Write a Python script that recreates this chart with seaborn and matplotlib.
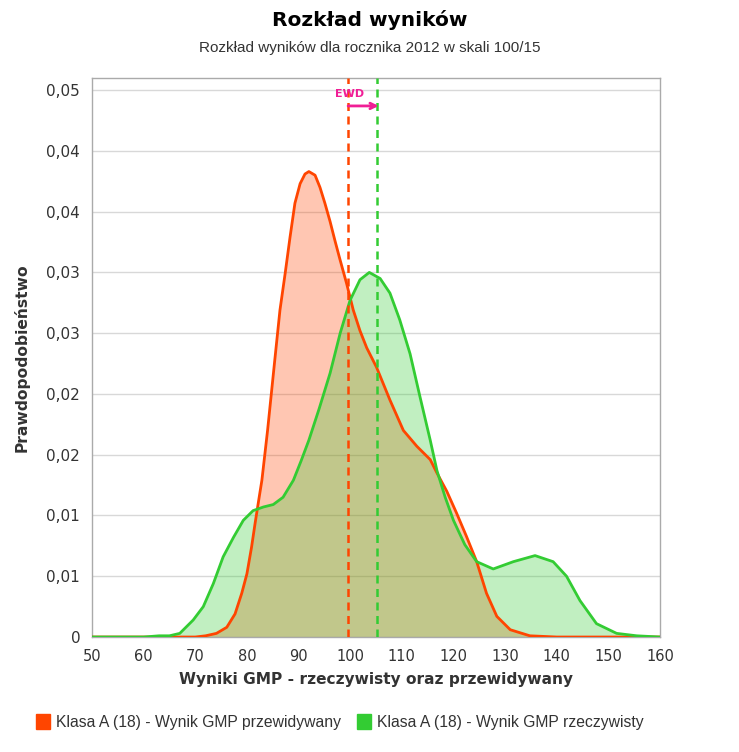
import pandas as pd
import seaborn as sns
import matplotlib.pyplot as plt
from matplotlib.patches import Patch

# density curves (score -> probability density)
x_pred = [50, 60, 70, 72, 74.1, 76.1, 77.7, 79.0, 80.0, 80.9, 81.6, 82.3, 82.9, 84, 85.4,
          86.4, 87.4, 88.35, 89.3, 90.3, 91.25, 92.0, 93.2, 94.15, 95.1, 96.1, 97.06, 98.0,
          99.3, 100.6, 101.9, 103.2, 105.1, 107.7, 110.3, 112.9, 115.5, 116.8, 118.7,
          120.6, 122.5, 124.5, 126.4, 128.4, 131.0, 134.8, 140, 160]
y_pred = [0, 0, 0, 0.0001, 0.0003, 0.0008, 0.0019, 0.0036, 0.0052, 0.0074, 0.0094, 0.0113,
          0.0129, 0.0170, 0.0228, 0.0269, 0.0299, 0.0329, 0.0357, 0.0373, 0.0381, 0.0383,
          0.0380, 0.0370, 0.0357, 0.0342, 0.0326, 0.0311, 0.0291, 0.0269, 0.0252, 0.0238,
          0.0222, 0.0195, 0.0170, 0.0157, 0.0146, 0.0135, 0.0120, 0.0102, 0.0083, 0.0062,
          0.0036, 0.0017, 0.0006, 0.0001, 0, 0]

x_real = [50, 60, 63, 65, 67.0, 69.6, 71.55, 73.5, 75.4, 77.4, 79.3, 81.2, 83.2, 85.1, 87.0,
          89.0, 90.5, 92.0, 94.0, 96.1, 98.06, 99.97, 101.9, 103.7, 105.8, 107.7, 109.6,
          111.6, 113.5, 115.5, 116.8, 118.4, 120.0, 122.2, 124.5, 127.7, 131.6, 135.8,
          139.3, 141.9, 144.5, 147.7, 151.6, 155.5, 160]
y_real = [0, 0, 0.0001, 0.0001, 0.0003, 0.0014, 0.0025, 0.0044, 0.0066, 0.0082, 0.0096,
          0.0104, 0.0107, 0.0109, 0.0115, 0.0129, 0.0145, 0.0162, 0.0188, 0.0217, 0.0250,
          0.0277, 0.0294, 0.0300, 0.0295, 0.0283, 0.0261, 0.0233, 0.0198, 0.0162, 0.0137,
          0.0115, 0.0096, 0.0076, 0.0062, 0.0056, 0.0062, 0.0067, 0.0062, 0.0050, 0.0030,
          0.0011, 0.0003, 0.0001, 0]

mean_pred = 99.6
mean_real = 105.2

labels = ["Klasa A (18) - Wynik GMP przewidywany", "Klasa A (18) - Wynik GMP rzeczywisty"]
y_ticks = [0, 0.005, 0.01, 0.015, 0.02, 0.025, 0.03, 0.035, 0.04, 0.045]
y_tick_labels = ["0", "0,01", "0,01", "0,02", "0,02", "0,03", "0,03", "0,04", "0,04", "0,05"]
x_ticks = [50, 60, 70, 80, 90, 100, 110, 120, 130, 140, 150, 160]

red = "#FF4500"
green = "#33CC33"
pink = "#F01E96"

df = pd.concat([
    pd.DataFrame({"x": x_pred, "y": y_pred, "seria": labels[0]}),
    pd.DataFrame({"x": x_real, "y": y_real, "seria": labels[1]}),
])

sns.set_style("white")
plt.rcParams["font.family"] = ["DejaVu Sans"]

fig = plt.figure(figsize=(7.39, 7.52), dpi=100)
ax = fig.add_axes([0.1245, 0.1529, 0.7686, 0.7434])

ax.fill_between(x_pred, y_pred, color=red, alpha=0.3, linewidth=0, zorder=2)
ax.fill_between(x_real, y_real, color=green, alpha=0.3, linewidth=0, zorder=2)
sns.lineplot(data=df, x="x", y="y", hue="seria", palette=[red, green], linewidth=2,
             legend=False, ax=ax, zorder=3)

ax.axvline(mean_pred, color=red, linestyle=(0, (3.2, 2.2)), linewidth=1.8, zorder=4)
ax.axvline(mean_real, color=green, linestyle=(0, (3.2, 2.2)), linewidth=1.8, zorder=4)
ax.annotate("", xy=(mean_real + 0.3, 0.0437), xytext=(mean_pred, 0.0437),
            arrowprops=dict(arrowstyle="->", color=pink, lw=2, shrinkA=0, shrinkB=0),
            zorder=5)
ax.text(99.8, 0.0447, "EWD", color=pink, fontsize=8, fontweight="bold",
        ha="center", va="center", zorder=5)

ax.set_xlim(50, 160)
ax.set_ylim(0, 0.046)
ax.set_xticks(x_ticks)
ax.set_yticks(y_ticks)
ax.set_yticklabels(y_tick_labels)
ax.tick_params(axis="x", labelsize=10.5)
ax.tick_params(axis="y", labelsize=11)
ax.tick_params(axis="both", labelcolor="#333333", color="#bbbbbb", length=5, width=1)
ax.grid(axis="y", color="#d8d8d8", linewidth=1)
ax.set_axisbelow(True)
for s in ax.spines.values():
    s.set_color("#aaaaaa")
    s.set_linewidth(1)

ax.set_xlabel("Wyniki GMP - rzeczywisty oraz przewidywany", fontsize=11.1,
              fontweight="bold", color="#333333", labelpad=6)
ax.set_ylabel("Prawdopodobieństwo", fontsize=11.2, fontweight="bold",
              color="#333333", labelpad=12)

fig.text(0.5, 0.973, "Rozkład wyników", ha="center", va="center",
         fontsize=14.5, fontweight="bold", color="black")
fig.text(0.5, 0.936, "Rozkład wyników dla rocznika 2012 w skali 100/15", ha="center",
         va="center", fontsize=11, color="#333333", family="Liberation Sans")

handles = [Patch(facecolor=red, edgecolor=red), Patch(facecolor=green, edgecolor=green)]
fig.legend(handles, labels, loc="center", bbox_to_anchor=(0.46, 0.04), ncol=2,
           frameon=False, prop={"family": "Liberation Sans", "size": 11.3},
           handlelength=0.9, handleheight=1.1, handletextpad=0.4, columnspacing=1.0,
           labelcolor="#333333")

fig.savefig("out.png", dpi=100)
